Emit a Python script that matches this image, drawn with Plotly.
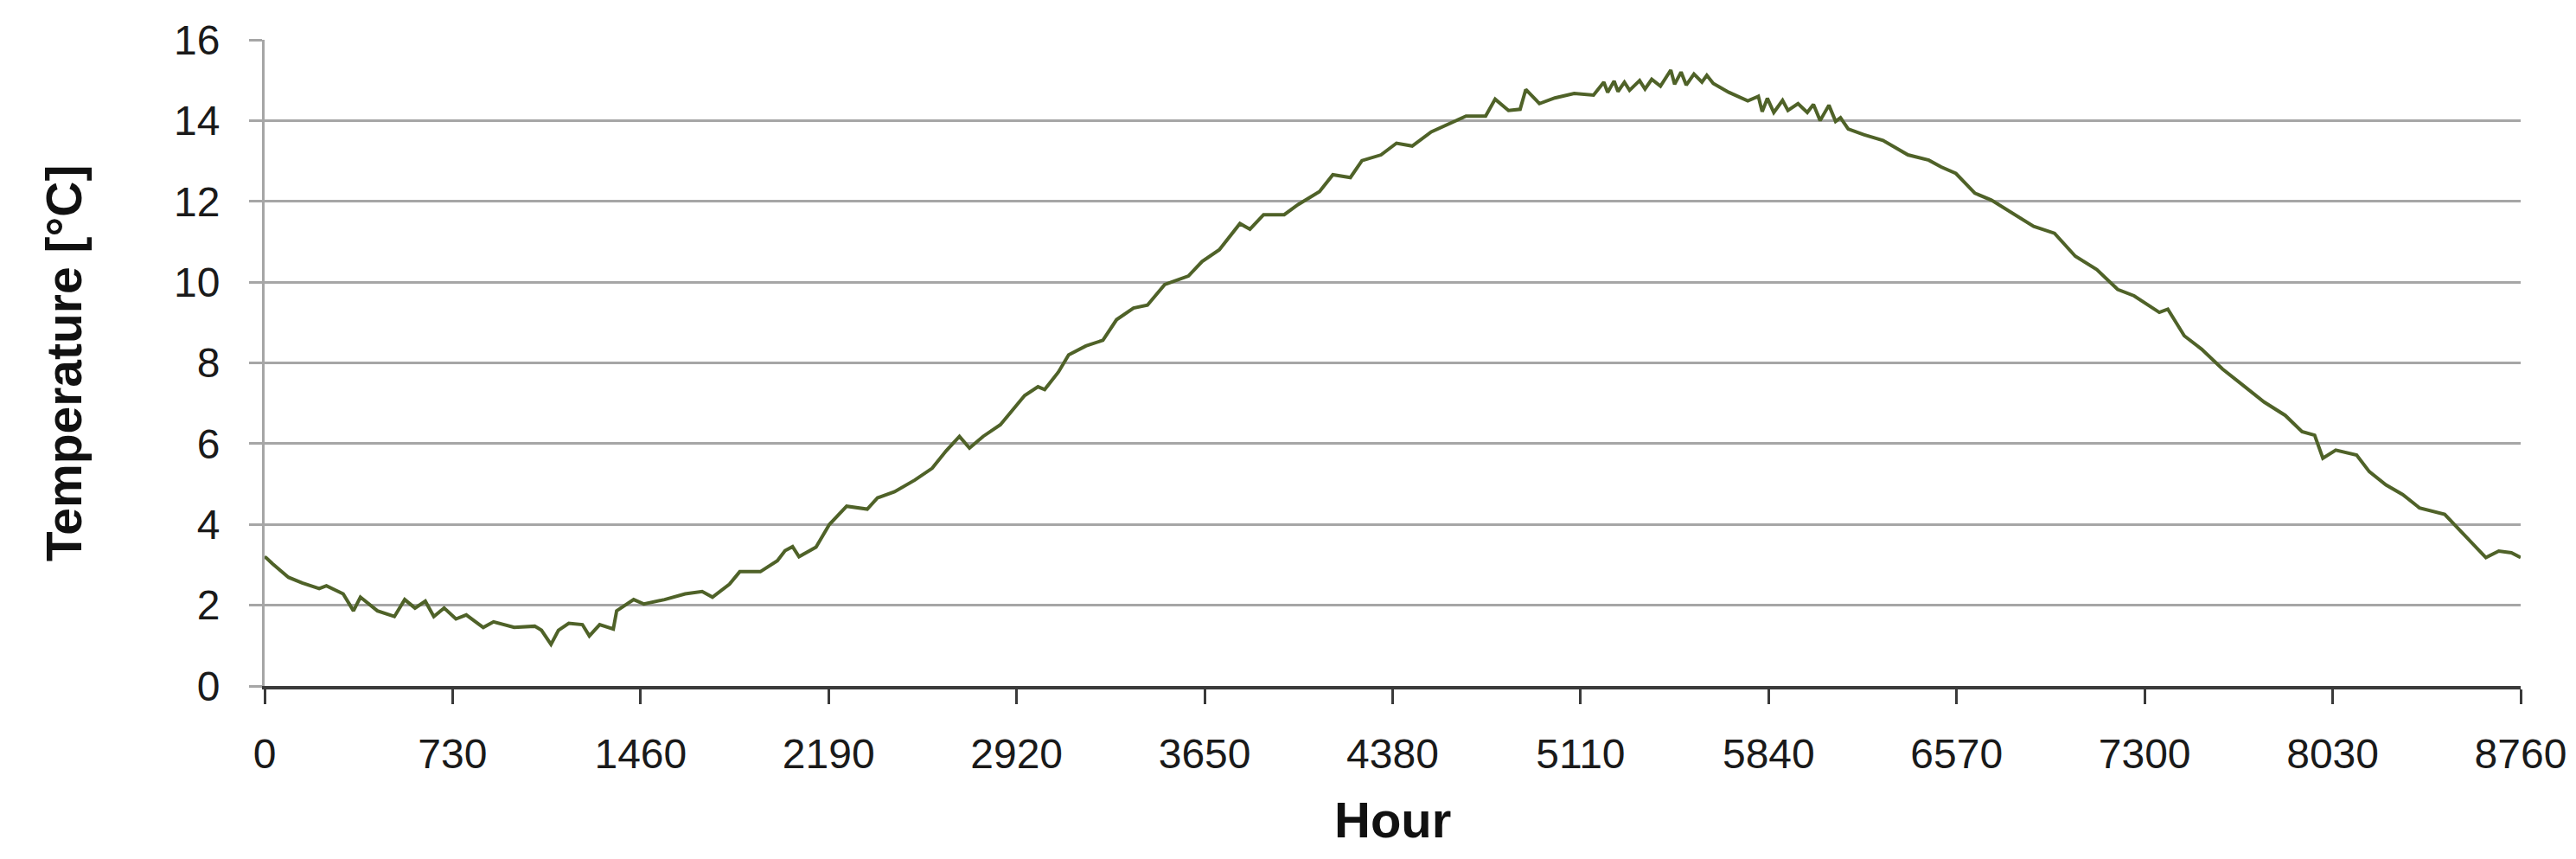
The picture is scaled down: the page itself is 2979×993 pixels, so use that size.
import plotly.graph_objects as go

# hourly temperature
hours = [0, 7, 30, 93, 146, 212, 240, 305, 345, 372, 438, 504, 544, 584, 624, 657, 697,
         743, 783, 849, 889, 969, 1049, 1075, 1112, 1141, 1181, 1234, 1261, 1301, 1354,
         1367, 1433, 1473, 1553, 1633, 1699, 1739, 1805, 1845, 1925, 1991, 2021, 2050,
         2075, 2141, 2193, 2260, 2340, 2380, 2446, 2525, 2592, 2646, 2698, 2737, 2790,
         2857, 2951, 3003, 3029, 3082, 3122, 3189, 3255, 3308, 3374, 3428, 3495, 3587,
         3640, 3707, 3787, 3826, 3879, 3959, 4013, 4096, 4148, 4216, 4261, 4335, 4395,
         4456, 4530, 4606, 4665, 4741, 4778, 4830, 4875, 4897, 4950, 5010, 5085, 5160,
         5200, 5215, 5240, 5255, 5280, 5300, 5339, 5360, 5386, 5420, 5460, 5475, 5500,
         5520, 5550, 5581, 5600, 5625, 5685, 5759, 5800, 5815, 5835, 5860, 5894, 5915,
         5954, 5990, 6014, 6040, 6074, 6100, 6119, 6149, 6209, 6284, 6344, 6381, 6462,
         6510, 6567, 6641, 6705, 6788, 6869, 6950, 7031, 7114, 7195, 7259, 7357, 7390,
         7454, 7521, 7602, 7683, 7764, 7846, 7911, 7960, 7992, 8042, 8123, 8172, 8237,
         8302, 8367, 8465, 8513, 8562, 8625, 8675, 8724, 8760]
temps = [3.2, 3.17, 3.03, 2.69, 2.55, 2.41, 2.48, 2.28, 1.86, 2.2, 1.86, 1.72, 2.14, 1.93,
         2.1, 1.72, 1.93, 1.66, 1.76, 1.45, 1.59, 1.45, 1.48, 1.38, 1.03, 1.38, 1.55, 1.52,
         1.24, 1.52, 1.41, 1.86, 2.14, 2.03, 2.14, 2.28, 2.34, 2.2, 2.52, 2.83, 2.83, 3.1,
         3.35, 3.45, 3.2, 3.44, 4.0, 4.45, 4.38, 4.66, 4.81, 5.1, 5.39, 5.82, 6.18, 5.89,
         6.18, 6.47, 7.19, 7.41, 7.34, 7.77, 8.2, 8.42, 8.56, 9.07, 9.36, 9.43, 9.94, 10.15,
         10.51, 10.8, 11.45, 11.31, 11.67, 11.67, 11.92, 12.24, 12.66, 12.59, 13.01, 13.15,
         13.44, 13.37, 13.72, 13.93, 14.11, 14.11, 14.53, 14.25, 14.28, 14.77, 14.42, 14.56,
         14.67, 14.63, 14.95, 14.7, 14.98, 14.72, 14.95, 14.75, 14.99, 14.78, 15.02, 14.85,
         15.25, 14.9, 15.2, 14.88, 15.15, 14.95, 15.12, 14.92, 14.7, 14.49, 14.6, 14.22,
         14.55, 14.2, 14.5, 14.25, 14.42, 14.2, 14.4, 14.0, 14.38, 13.98, 14.07, 13.79,
         13.65, 13.51, 13.3, 13.15, 13.02, 12.85, 12.69, 12.2, 12.03, 11.7, 11.38, 11.21,
         10.64, 10.31, 9.82, 9.66, 9.25, 9.33, 8.67, 8.34, 7.85, 7.44, 7.03, 6.7, 6.3, 6.21,
         5.64, 5.84, 5.72, 5.31, 4.98, 4.74, 4.41, 4.25, 3.92, 3.59, 3.18, 3.34, 3.3, 3.18]

x_ticks = [0, 730, 1460, 2190, 2920, 3650, 4380, 5110, 5840, 6570, 7300, 8030, 8760]

tick_font = dict(family='Liberation Sans Narrow, Arial Narrow, Liberation Sans, sans-serif',
                 size=48, color='#1a1a1a')
title_font = 'Liberation Sans, Arial, sans-serif'

fig = go.Figure()
fig.add_trace(go.Scatter(x=hours, y=temps, mode='lines',
                         line=dict(color='#4F6228', width=4)))

fig.update_layout(width=2979, height=993,
                  margin=dict(l=298, r=72, t=38, b=208),
                  plot_bgcolor='white', paper_bgcolor='white',
                  showlegend=False,
                  font=dict(family=title_font, size=45, color='#1a1a1a'))

fig.update_xaxes(range=[0, 8760], tickvals=x_ticks, showgrid=False, zeroline=False,
                 showline=True, linecolor='#3a3a3a', linewidth=4,
                 ticks='outside', ticklen=17, tickwidth=3, tickcolor='#3a3a3a',
                 tickfont=tick_font, ticklabelstandoff=16)
fig.update_yaxes(range=[0, 16], dtick=2, showgrid=True, gridcolor='#a6a6a6', gridwidth=3,
                 zeroline=False, showline=True, linecolor='#a6a6a6', linewidth=3,
                 ticks='outside', ticklen=15, tickwidth=3, tickcolor='#a6a6a6',
                 tickfont=tick_font, ticklabelstandoff=24)

fig.add_annotation(text='<b>Hour</b>', xref='paper', yref='paper', x=0.5, y=-0.207,
                   xanchor='center', yanchor='middle', showarrow=False,
                   font=dict(size=58, color='#111111'))
fig.add_annotation(text='<b>Temperature [°C]</b>', xref='paper', yref='paper',
                   x=-0.089, y=0.5, textangle=-90, xanchor='center', yanchor='middle',
                   showarrow=False, font=dict(size=57, color='#111111'))

fig.write_html('out.html')
